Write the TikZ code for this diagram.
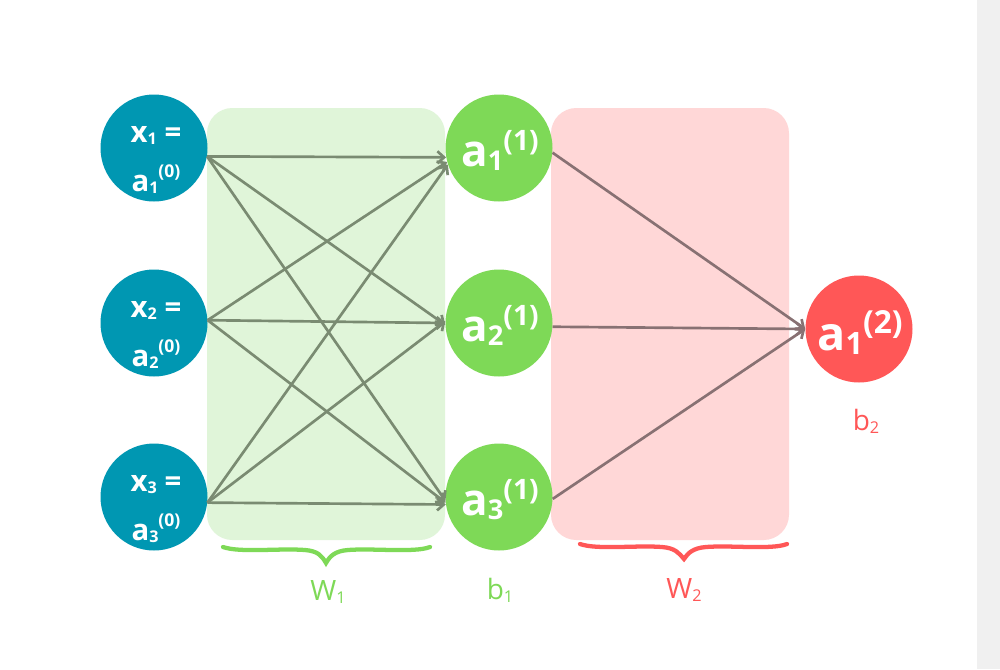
\documentclass[tikz,border=0pt]{standalone}
\usepackage{fontspec}
\setmainfont{Open Sans}
\usetikzlibrary{arrows.meta}
\definecolor{teal}{HTML}{0097B2}
\definecolor{hgreen}{HTML}{7ED957}
\definecolor{ored}{HTML}{FF5757}
\definecolor{boxgreen}{HTML}{E0F5D9}
\definecolor{boxred}{HTML}{FFD7D7}
\definecolor{arrg}{HTML}{7A8B72}
\definecolor{arrr}{HTML}{887173}
\definecolor{strip}{HTML}{F0F0F0}
\newcommand{\sbs}[2][0.58]{\raisebox{-0.1em}{\scalebox{#1}{#2}}}
\newcommand{\sps}[3]{\raisebox{#1em}{\scalebox{#2}{#3}}}
\tikzset{
  neuron/.style={circle, minimum size=107*0.75pt, inner sep=0pt},
  innode/.style={neuron, fill=teal},
  hidnode/.style={neuron, fill=hgreen},
  outnode/.style={neuron, fill=ored},
  intext/.style={anchor=base, inner sep=0pt, text=white, font=\bfseries\fontsize{22}{26}\selectfont},
  hidtext/.style={anchor=base, inner sep=0pt, text=white, font=\bfseries\fontsize{33}{36}\selectfont},
  outtext/.style={anchor=base, inner sep=0pt, text=white, font=\bfseries\fontsize{35}{40}\selectfont},
  arrA/.style={draw=arrg, line width=2pt, -{Straight Barb[length=5pt,width=9pt]}},
  arrB/.style={draw=arrr, line width=2pt, -{Straight Barb[length=5pt,width=9pt]}},
  lbl/.style={font=\fontsize{21}{24}\selectfont},
  bracestyle/.style={line width=3.2pt, line cap=round}
}
\begin{document}
\begin{tikzpicture}[x=0.75pt,y=-0.75pt]
\useasboundingbox (0,0) rectangle (1000,669);
\fill[white] (0,0) rectangle (1000,669);
\fill[strip] (977,0) rectangle (1000,669);
% boxes
\fill[boxgreen, rounded corners=19pt] (207,108) rectangle (445,540);
\fill[boxred, rounded corners=19pt] (551,108) rectangle (789,540);
% nodes
\node[innode] (x1) at (154,148) {};
\node[innode] (x2) at (154,323) {};
\node[innode] (x3) at (154,497) {};
\node[hidnode] (h1) at (499,148) {};
\node[hidnode] (h2) at (499,323) {};
\node[hidnode] (h3) at (499,497) {};
\node[outnode] (y1) at (859,329) {};
% node texts
\node[intext] (x1a) at (156,142) {x\sbs[0.55]{1} =};
\node[intext] (x1b) at (156,191) {a\sbs[0.55]{1}\sps{0.46}{0.6}{(0)}};
\node[intext] (x2a) at (156,317) {x\sbs[0.55]{2} =};
\node[intext] (x2b) at (156,366) {a\sbs[0.55]{2}\sps{0.46}{0.6}{(0)}};
\node[intext] (x3a) at (156,491) {x\sbs[0.55]{3} =};
\node[intext] (x3b) at (156,540) {a\sbs[0.55]{3}\sps{0.46}{0.6}{(0)}};
\node[hidtext] (h1t) at (500,166) {a\sbs[0.62]{1}\sps{0.36}{0.64}{(1)}};
\node[hidtext] (h2t) at (500,341) {a\sbs[0.62]{2}\sps{0.36}{0.64}{(1)}};
\node[hidtext] (h3t) at (500,515) {a\sbs[0.62]{3}\sps{0.36}{0.64}{(1)}};
\node[outtext] (y1t) at (860,350) {a\sbs[0.66]{1}\sps{0.36}{0.68}{(2)}};
% connectors layer 1
\draw[arrA] (x1.-9) -- (h1.190);
\draw[arrA] (x1.-9) -- (h2.182);
\draw[arrA] (x1.-9) -- (h3.184);
\draw[arrA] (x2.3) -- (h1.195);
\draw[arrA] (x2.3) -- (h2.180);
\draw[arrA] (x2.3) -- (h3.186);
\draw[arrA] (x3.-6) -- (h1.198);
\draw[arrA] (x3.-6) -- (h2.178);
\draw[arrA] (x3.-6) -- (h3.188);
% connectors layer 2
\draw[arrB] (h1.-5) -- (y1.180);
\draw[arrB] (h2.-4) -- (y1.180);
\draw[arrB] (h3.-2) -- (y1.180);
% braces
\draw[hgreen, bracestyle] (223,547) .. controls (240,553) and (280,548) .. (305,550) .. controls (318,551) and (322,556) .. (326,563) .. controls (330,556) and (335,551) .. (348,550) .. controls (372,548) and (415,553) .. (430,547);
\draw[ored, bracestyle] (580,544) .. controls (597,550) and (637,545) .. (662,547) .. controls (675,548) and (679,553) .. (684,559) .. controls (688,553) and (693,548) .. (706,547) .. controls (730,545) and (772,550) .. (787,544);
% labels
\node[lbl, text=hgreen] (w1) at (328,592) {W\sbs{1}};
\node[lbl, text=hgreen] (b1) at (500,590) {b\sbs{1}};
\node[lbl, text=ored] (w2) at (684,590) {W\sbs{2}};
\node[lbl, text=ored] (b2) at (866,421) {b\sbs{2}};
\end{tikzpicture}
\end{document}
